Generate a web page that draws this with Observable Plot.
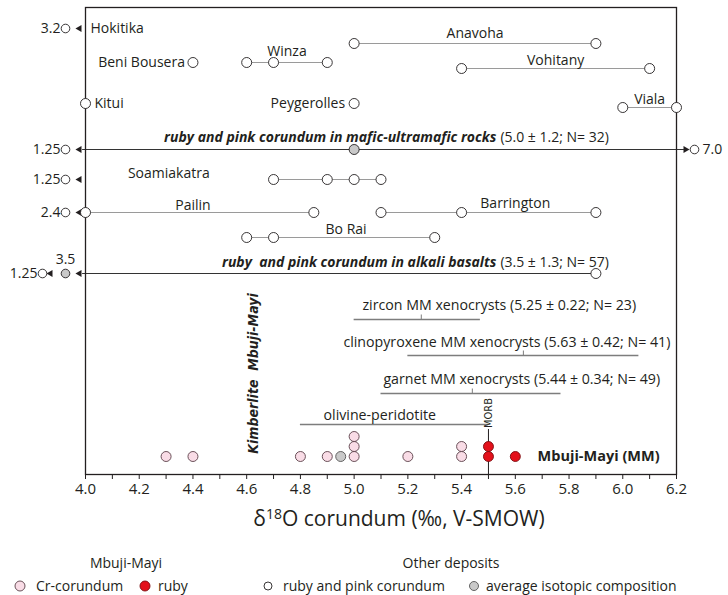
<!DOCTYPE html>
<html><head><meta charset="utf-8">
<script src="https://cdn.jsdelivr.net/npm/d3@7"></script>
<script src="https://cdn.jsdelivr.net/npm/@observablehq/plot@0.6"></script>
<style>
body{margin:0;background:#fff;font-family:"Open Sans",sans-serif;color:#231f20}
#legend{position:relative;width:728px;height:50px;font-size:14px}
#legend span{position:absolute;white-space:nowrap;line-height:18px}
#legend svg{position:absolute}
</style></head><body>
<div id="chart"></div>
<div id="legend"></div>
<script>
// ---------- data ----------
const xMin = 4.0, xMax = 6.2;
const tickValues = d3.range(40, 63).map(d => d / 10);
const tickLabels = ["4.0","4.2","4.4","4.6","4.8","5.0","5.2","5.4","5.6","5.8","6.0","6.2"];

const depositNames  = ["Hokitika","Anavoha","Beni Bousera","Winza","Vohitany","Kitui","Peygerolles","Viala","Soamiakatra","Pailin","Barrington","Bo Rai"];
const depositValues = [[3.2],[5.0,5.9],[4.4],[4.6,4.7,4.9],[5.4,6.1],[4.0],[5.0],[6.0,6.2],[1.25,4.7,4.9,5.0,5.1],[2.4,4.0,4.85],[5.1,5.4,5.9],[4.6,4.7,5.3]];

const averageNames = ["ruby and pink corundum in mafic-ultramafic rocks","ruby  and pink corundum in alkali basalts"];
const averageMean = [5.0, 3.5];
const averageSD   = [1.2, 1.3];
const averageN    = [32, 57];
const averageMin  = [1.25, 1.25];
const averageMax  = [7.0, 5.9];

const mineralNames = ["zircon MM xenocrysts","clinopyroxene MM xenocrysts","garnet MM xenocrysts","olivine-peridotite"];
const mineralMean  = [5.25, 5.63, 5.44, null];
const mineralSD    = [0.22, 0.42, 0.34, null];
const mineralN     = [23, 41, 49, null];
const mineralMin   = [5.0, 5.2, 5.1, 4.8];
const mineralMax   = [5.47, 6.06, 5.77, 5.5];

const morb = 5.5;
const mmCr      = [4.3,4.4,4.8,4.9,5.0,5.0,5.0,5.2,5.4,5.4];
const mmRuby    = [5.5,5.5,5.6];
const mmAverage = [4.95];

// ---------- layout (row levels, label placement) ----------
const depositRow = [2.1,3.6,5.5,5.5,6.1,9.6,9.6,10.0,17.2,20.5,20.5,23.0];
const depositLabelX      = [4.0,5.45,4.4,4.75,5.75,4.0,5.0,6.1,4.31,4.40,5.60,4.97];
const depositLabelAnchor = ["start","middle","end","middle","middle","start","end","middle","middle","middle","middle","middle"];
const depositLabelDx     = [5,0,-8,0,0,9,-9,0,0,0,0,0];
const depositLabelDy     = [0,-10,0,-11,-8,0,0,-8,-6,-7,-9,-8];
const averageRow = [14.2, 26.6];
const averageLabelDy = [-12, -11];
const averageSplitX = 5.537;
const mineralRow = [31.2, 34.8, 38.6, 41.7];
const mineralLabelX = [5.031, 4.96, 5.109, 4.886];
const mineralLabelDy = [-14, -13, -14, -9];
const mmRow = 44.9;
const INK = "#231f20";
const FS = 14;

// ---------- derived tables ----------
const inPts = [], offLeft = [], offRight = [], ranges = [];
depositNames.forEach((name, i) => {
  const row = depositRow[i];
  const vals = depositValues[i];
  const inr = vals.filter(v => v >= xMin && v <= xMax);
  inr.forEach(v => inPts.push({row, value: v}));
  vals.filter(v => v < xMin).sort((a,b)=>b-a).forEach((v,k) => offLeft.push({row, value: v, slot: k, kind: "sample"}));
  if (inr.length > 1) ranges.push({row, x1: d3.min(inr), x2: d3.max(inr)});
});
const avgMeanIn = [], avgEndIn = [];
averageNames.forEach((name, i) => {
  const row = averageRow[i];
  const left = [];
  if (averageMean[i] < xMin) left.push({value: averageMean[i], kind: "mean"});
  else avgMeanIn.push({row, value: averageMean[i]});
  if (averageMin[i] < xMin) left.push({value: averageMin[i], kind: "sample"});
  else avgEndIn.push({row, value: averageMin[i]});
  left.sort((a,b)=>b.value-a.value).forEach((d,k) => offLeft.push({row, value: d.value, slot: k, kind: d.kind}));
  if (averageMax[i] > xMax) offRight.push({row, value: averageMax[i]});
  else avgEndIn.push({row, value: averageMax[i]});
});
const mmSamples = [
  ...mmCr.map(v => ({value: v, type: "cr"})),
  ...mmRuby.map(v => ({value: v, type: "ruby"})),
  ...mmAverage.map(v => ({value: v, type: "avg"}))
];
const counts = new Map();
mmSamples.forEach(s => { const k = s.value.toFixed(2); const n = counts.get(k) || 0; s.row = mmRow - n; counts.set(k, n + 1); });

const slotDx = [-20, -43];
const slotArrowDx = [-6, -35];
const slotTextDx = [-25, -48];
const fmt = v => v === 7 ? "7.0" : String(v);

const marks = [];
// range lines of deposits
marks.push(Plot.ruleY(ranges, {y: "row", x1: "x1", x2: "x2", stroke: "#9a9a9a", strokeWidth: 1}));
// average lines (extend beyond the frame towards off-scale arrows)
averageNames.forEach((n, i) => {
  marks.push(Plot.arrow([{row: averageRow[i], a: Math.max(averageMin[i], xMin), b: Math.min(averageMax[i], xMax)}], {
    x1: "a", x2: "b", y1: "row", y2: "row", stroke: "#333", strokeWidth: 1.1, headLength: 0,
    insetStart: averageMin[i] < xMin ? -3 : 0, insetEnd: averageMax[i] > xMax ? -7 : 0
  }));
});
// xenocryst lines + mean ticks
marks.push(Plot.ruleY(mineralNames.map((n, i) => ({row: mineralRow[i], a: mineralMin[i], b: mineralMax[i]})),
  {y: "row", x1: "a", x2: "b", stroke: "#7d7d7d", strokeWidth: 1.6}));
const meanTicks = mineralNames.map((n, i) => ({row: mineralRow[i], value: mineralMean[i]})).filter(d => d.value != null);
marks.push(Plot.ruleX(meanTicks, {x: "value", y1: "row", y2: d => d.row - 0.45, stroke: "#7d7d7d", strokeWidth: 1}));
// MORB
marks.push(Plot.ruleX([morb], {x: d => d, y1: 42.2, y2: 46.7, stroke: INK, strokeWidth: 1}));
marks.push(Plot.text([morb], {x: d => d, y: () => 40.55, text: () => "MORB", rotate: -90, fontSize: 11, fontFamily: "DejaVu Sans Condensed", fill: INK}));
// frame & axis
marks.push(Plot.frame({stroke: INK, strokeWidth: 1.3}));
marks.push(Plot.axisX({ticks: tickValues, tickSize: 5, tickPadding: 4, fontSize: 15, stroke: INK, fill: INK,
  tickFormat: d => { const i = tickLabels.indexOf(d.toFixed(1)); return i >= 0 ? tickLabels[i] : ""; }, label: null}));
marks.push(Plot.text(["δ18O corundum (‰, V-SMOW)"], {frameAnchor: "bottom", dx: 18, dy: 51, fontSize: 21, fill: INK, text: d => d}));
// off-scale markers (left)
[0, 1].forEach(s => {
  const ds = offLeft.filter(d => d.slot === s);
  marks.push(Plot.dot(ds, {x: () => xMin, y: "row", dx: slotArrowDx[s], symbol: "triangle", r: 2.6, rotate: -90, fill: INK, stroke: "none"}));
  marks.push(Plot.dot(ds, {x: () => xMin, y: "row", dx: slotDx[s], r: 4.3, fill: d => d.kind === "mean" ? "#c9c9c9" : "white", stroke: INK, strokeWidth: 0.9}));
  marks.push(Plot.text(ds.filter(d => d.kind === "sample"), {x: () => xMin, y: "row", dx: slotTextDx[s], text: d => fmt(d.value), textAnchor: "end", fontSize: FS, fill: INK}));
  marks.push(Plot.text(ds.filter(d => d.kind === "mean"), {x: () => xMin, y: "row", dx: slotDx[s], dy: -14, text: d => fmt(d.value), fontSize: FS, fill: INK}));
});
// off-scale markers (right)
marks.push(Plot.dot(offRight, {x: () => xMax, y: "row", dx: 9, symbol: "triangle", r: 2.6, rotate: 90, fill: INK, stroke: "none"}));
marks.push(Plot.dot(offRight, {x: () => xMax, y: "row", dx: 18, r: 4.3, fill: "white", stroke: INK, strokeWidth: 0.9}));
marks.push(Plot.text(offRight, {x: () => xMax, y: "row", dx: 26, text: d => fmt(d.value), textAnchor: "start", fontSize: FS, fill: INK}));
// deposit points
marks.push(Plot.dot(inPts, {x: "value", y: "row", r: 5, fill: "white", stroke: INK, strokeWidth: 0.9}));
marks.push(Plot.dot(avgEndIn, {x: "value", y: "row", r: 5, fill: "white", stroke: INK, strokeWidth: 0.9}));
marks.push(Plot.dot(avgMeanIn, {x: "value", y: "row", r: 5, fill: "#c9c9c9", stroke: INK, strokeWidth: 0.9}));
// deposit labels
depositNames.forEach((n, i) => {
  marks.push(Plot.text([n], {x: () => depositLabelX[i], y: () => depositRow[i], text: d => d, textAnchor: depositLabelAnchor[i],
    dx: depositLabelDx[i], dy: depositLabelDy[i], fontSize: FS, fill: INK}));
});
// average labels
averageNames.forEach((n, i) => {
  marks.push(Plot.text([n], {x: () => averageSplitX, y: () => averageRow[i], text: d => d, textAnchor: "end", dx: -2, dy: averageLabelDy[i], fontSize: FS, fontWeight: "bold", fontStyle: "italic", fill: INK}));
  marks.push(Plot.text([`(${averageMean[i].toFixed(1)} ± ${averageSD[i]}; N= ${averageN[i]})`], {x: () => averageSplitX, y: () => averageRow[i], text: d => d, textAnchor: "start", dx: 2, dy: averageLabelDy[i], fontSize: FS, fill: INK}));
});
// mineral labels
mineralNames.forEach((n, i) => {
  const t = mineralMean[i] != null ? `${n} (${mineralMean[i].toFixed(2)} ± ${mineralSD[i].toFixed(2)}; N= ${mineralN[i]})` : n;
  marks.push(Plot.text([t], {x: () => mineralLabelX[i], y: () => mineralRow[i], text: d => d, textAnchor: "start", dy: mineralLabelDy[i], fontSize: 14.2, fill: INK}));
});
// Kimberlite label
marks.push(Plot.text(["Kimberlite  Mbuji-Mayi"], {x: () => 4.625, y: () => 36.6, text: d => d, rotate: -90, fontSize: 14, fontWeight: "bold", fontStyle: "italic", fontFamily: "DejaVu Sans Condensed", fill: INK}));
// MM samples
marks.push(Plot.dot(mmSamples, {x: "value", y: "row", r: 5, strokeWidth: 0.9,
  fill: d => d.type === "cr" ? "#f9dce6" : d.type === "ruby" ? "#e3111b" : "#c9c9c9",
  stroke: d => d.type === "cr" ? "#5a4048" : d.type === "ruby" ? "#7a0a0e" : "#555"}));
marks.push(Plot.text(["Mbuji-Mayi (MM)"], {x: () => 5.683, y: () => mmRow, text: d => d, textAnchor: "start", fontSize: 14.5, fontWeight: "bold", fill: INK}));

const svg = Plot.plot({
  width: 728, height: 545,
  marginLeft: 85, marginRight: 52, marginTop: 7, marginBottom: 71,
  x: {domain: [xMin, xMax]},
  y: {domain: [0, 46.7], reverse: true, axis: null},
  style: {fontFamily: "'Open Sans', sans-serif", fontSize: "14px", color: INK, background: "white", overflow: "visible"},
  marks
});
document.getElementById("chart").appendChild(svg);

// superscript in axis title
d3.select(svg).selectAll("text").filter(function(){ return this.textContent === "δ18O corundum (‰, V-SMOW)"; })
  .each(function(){
    const t = d3.select(this); t.text(null);
    t.append("tspan").text("δ");
    t.append("tspan").attr("font-size", "14px").attr("dy", "-7").text("18");
    t.append("tspan").attr("dy", "7").text("O corundum (‰, V-SMOW)");
  });

// ---------- legend ----------
const legend = d3.select("#legend");
const headers = [{t: "Mbuji-Mayi", x: 126}, {t: "Other deposits", x: 451}];
headers.forEach(h => legend.append("span").style("left", (h.x - 70) + "px").style("width", "140px").style("text-align", "center").style("top", "9px").text(h.t));
const items = [
  {t: "Cr-corundum", cx: 20, tx: 36, r: 5, fill: "#f9dce6", stroke: "#5a4048"},
  {t: "ruby", cx: 145, tx: 158, r: 5, fill: "#e3111b", stroke: "#7a0a0e"},
  {t: "ruby and pink corundum", cx: 268, tx: 283, r: 4, fill: "white", stroke: INK},
  {t: "average isotopic composition", cx: 474, tx: 486, r: 4.5, fill: "#c9c9c9", stroke: "#555"}
];
items.forEach(it => {
  const s = legend.append("svg").attr("width", 14).attr("height", 14).style("left", (it.cx - 7) + "px").style("top", "34px");
  s.append("circle").attr("cx", 7).attr("cy", 7).attr("r", it.r).attr("fill", it.fill).attr("stroke", it.stroke).attr("stroke-width", 0.9);
  legend.append("span").style("left", it.tx + "px").style("top", "32px").text(it.t);
});
</script>
</body></html>
